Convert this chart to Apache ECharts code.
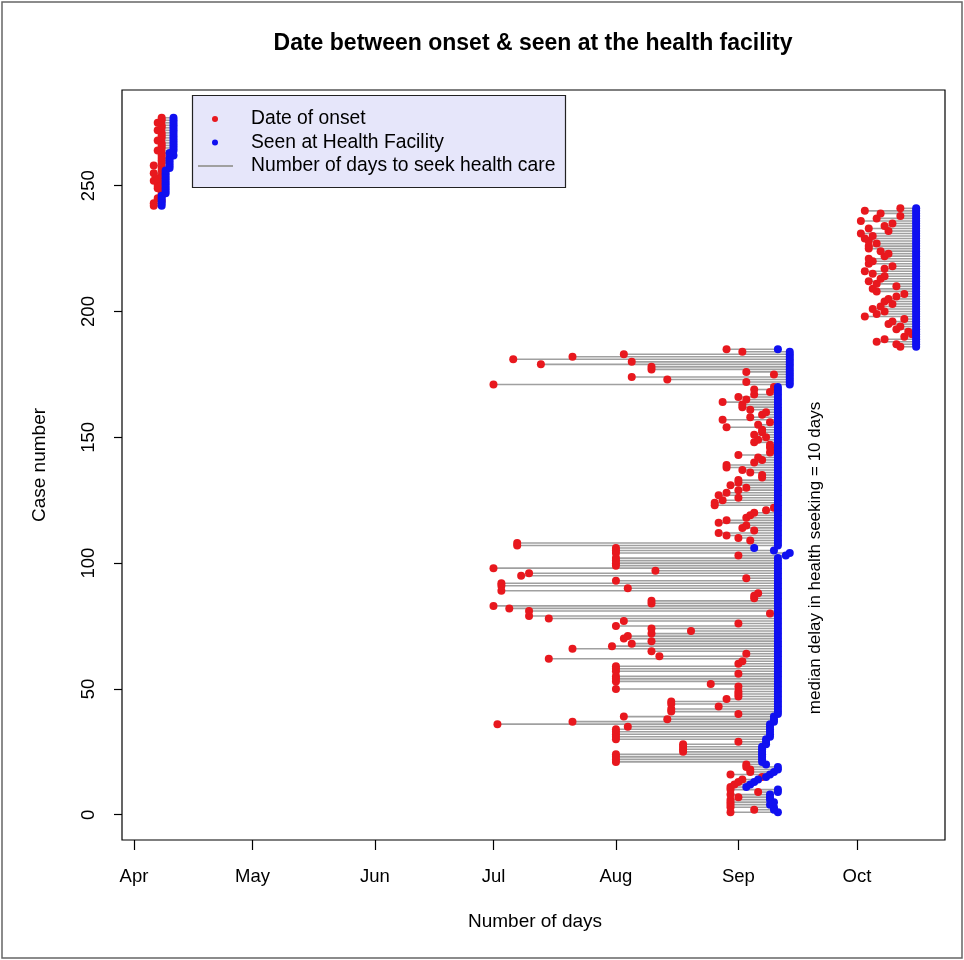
<!DOCTYPE html>
<html><head><meta charset="utf-8">
<script src="https://cdn.jsdelivr.net/npm/echarts@6/dist/echarts.min.js"></script>
<style>html,body{margin:0;padding:0;background:#fff}#c{width:964px;height:960px}</style>
</head><body><div id="c"></div>
<script>
// ---- axis data ----
const monthNames = ['Apr','May','Jun','Jul','Aug','Sep','Oct'];
const monthTickDays = [0,30,61,91,122,153,183]; // days after 1 April
const yTicks = [0,50,100,150,200,250];

// ---- case data: day offsets from 1 April ----
// Group A: cases 1..185 (onset Jul–Sep)
const groupAFirstCase = 1;
const groupAOnset = [
151,157,151,151,151,151,153,151,158,151,
151,152,153,154,159,151,156,156,155,155,
122,122,122,122,139,139,139,139,153,122,
122,122,122,122,125,92,111,135,124,153,
136,136,148,136,136,150,153,153,153,122,
153,146,122,122,122,153,122,122,122,153,
154,105,133,155,131,111,121,126,131,124,
125,131,141,131,122,153,124,105,100,161,
100,95,91,131,131,157,157,158,93,125,
93,93,122,155,98,100,132,91,122,122,
122,122,153,122,122,122,97,97,156,153,
150,148,157,154,155,148,150,155,156,157,
160,162,147,147,149,153,148,150,153,155,
151,153,153,159,159,156,154,150,150,157,
159,158,153,161,162,161,161,157,158,160,
157,159,159,150,158,161,149,156,159,160,
156,154,154,149,155,153,157,161,157,162,
91,155,135,126,162,155,131,131,103,126,
96,111,124,154,150];
const groupASeen = [
163,162,162,161,162,161,161,161,163,163,
155,156,157,158,160,161,162,163,163,160,
159,159,159,159,159,159,159,160,160,160,
161,161,161,161,161,161,162,162,162,163,
163,163,163,163,163,163,163,163,163,163,
163,163,163,163,163,163,163,163,163,163,
163,163,163,163,163,163,163,163,163,163,
163,163,163,163,163,163,163,163,163,163,
163,163,163,163,163,163,163,163,163,163,
163,163,163,163,163,163,163,163,163,163,
163,163,165,166,162,157,163,163,163,163,
163,163,163,163,163,163,163,163,163,163,
163,163,163,163,163,163,163,163,163,163,
163,163,163,163,163,163,163,163,163,163,
163,163,163,163,163,163,163,163,163,163,
163,163,163,163,163,163,163,163,163,163,
163,163,163,163,163,163,163,163,163,163,
166,166,166,166,166,166,166,166,166,166,
166,166,166,166,163];

// Group B: cases 186..241 (October)
const groupBFirstCase = 186;
const groupBOnset = [
194,193,188,190,195,197,196,193,194,191,
192,195,185,188,190,187,189,192,190,191,
193,195,188,187,193,188,186,189,190,187,
185,190,192,186,187,186,190,191,189,186,
186,188,186,185,187,184,191,186,190,192,
184,188,194,189,185,194];
const groupBSeen = [
198,198,198,198,198,198,198,198,198,198,
198,198,198,198,198,198,198,198,198,198,
198,198,198,198,198,198,198,198,198,198,
198,198,198,198,198,198,198,198,198,198,
198,198,198,198,198,198,198,198,198,198,
198,198,198,198,198,198];

// Group C: cases 242..277 (April)
const groupCFirstCase = 242;
const groupCOnset = [
5,5,7,6,7,7,7,6,6,7,
5,6,7,5,7,7,5,7,7,7,
7,7,6,7,7,7,6,7,7,7,
6,7,7,6,7,7];
const groupCSeen = [
7,7,7,7,7,8,8,8,8,8,
8,8,8,8,8,9,9,9,9,9,
10,9,10,10,10,10,10,10,10,10,
10,10,10,10,10,10];

// ---- build ----
const groups = [
  [groupAFirstCase, groupAOnset, groupASeen],
  [groupBFirstCase, groupBOnset, groupBSeen],
  [groupCFirstCase, groupCOnset, groupCSeen]
];
const segData = [], onsetPts = [], seenPts = [];
groups.forEach(([first, on, seen]) => {
  on.forEach((d, i) => {
    const c = first + i;
    segData.push([d, seen[i], c]);
    onsetPts.push([d, c]);
    seenPts.push([seen[i], c]);
  });
});

const FONT = 'Liberation Sans, Arial, sans-serif';
const chart = echarts.init(document.getElementById('c'), null, {renderer: 'canvas'});
chart.setOption({
  animation: false,
  backgroundColor: '#fff',
  grid: {left: 122, right: 19, top: 90, bottom: 120, show: true, borderColor: '#000', borderWidth: 1.2, containLabel: false},
  xAxis: {
    type: 'value',
    min: -3.04, max: 205.3,
    axisLine: {show: false, onZero: false},
    splitLine: {show: false},
    axisTick: {show: true, length: 10, customValues: monthTickDays, lineStyle: {color: '#000', width: 1.2}},
    axisLabel: {
      customValues: monthTickDays, color: '#000', fontSize: 18.5, fontFamily: FONT, margin: 27,
      formatter: v => { const i = monthTickDays.indexOf(Math.round(v)); return i >= 0 ? monthNames[i] : ''; }
    }
  },
  yAxis: {
    type: 'value',
    min: -10.04, max: 288.04,
    axisLine: {show: false, onZero: false},
    splitLine: {show: false},
    axisTick: {show: true, length: 8, customValues: yTicks, lineStyle: {color: '#000', width: 1.2}},
    axisLabel: {customValues: yTicks, rotate: 90, color: '#000', fontSize: 18.5, fontFamily: FONT, margin: 24}
  },
  series: [
    {
      type: 'custom',
      data: segData,
      encode: {x: [0, 1], y: 2},
      renderItem: (params, api) => {
        const p1 = api.coord([api.value(0), api.value(2)]);
        const p2 = api.coord([api.value(1), api.value(2)]);
        return {type: 'line', shape: {x1: p1[0], y1: p1[1], x2: p2[0], y2: p2[1]}, style: {stroke: '#a0a0a0', lineWidth: 1.6}};
      },
      silent: true, z: 1
    },
    {type: 'scatter', data: onsetPts, symbol: 'circle', symbolSize: 8, itemStyle: {color: '#e8181e', opacity: 1}, silent: true, z: 2},
    {type: 'scatter', data: seenPts, symbol: 'circle', symbolSize: 8, itemStyle: {color: '#1010f0', opacity: 1}, silent: true, z: 3}
  ],
  graphic: [
    {type: 'rect', shape: {x: 2, y: 2, width: 960, height: 956}, style: {fill: 'none', stroke: '#666', lineWidth: 1.5}, silent: true, z: 0},
    {type: 'text', x: 533, y: 44, style: {text: 'Date between onset & seen at the health facility', font: 'bold 23px ' + FONT, fill: '#000', align: 'center', verticalAlign: 'middle'}},
    {type: 'text', x: 535, y: 922, style: {text: 'Number of days', font: '19px ' + FONT, fill: '#000', align: 'center', verticalAlign: 'middle'}},
    {type: 'text', x: 40, y: 465, rotation: Math.PI / 2, style: {text: 'Case number', font: '19px ' + FONT, fill: '#000', align: 'center', verticalAlign: 'middle'}},
    {type: 'text', x: 815, y: 558, rotation: Math.PI / 2, z: 10, style: {text: 'median delay in health seeking = 10 days', font: '17px ' + FONT, fill: '#000', align: 'center', verticalAlign: 'middle'}},
    {type: 'group', z: 20, children: [
      {type: 'rect', shape: {x: 192.5, y: 95.5, width: 373, height: 92}, style: {fill: '#e6e6fa', stroke: '#222', lineWidth: 1.2}},
      {type: 'circle', shape: {cx: 215, cy: 119, r: 3}, style: {fill: '#e8181e'}},
      {type: 'circle', shape: {cx: 215, cy: 142.5, r: 3}, style: {fill: '#1010f0'}},
      {type: 'line', shape: {x1: 198, y1: 166, x2: 233, y2: 166}, style: {stroke: '#a0a0a0', lineWidth: 2}},
      {type: 'text', x: 251, y: 119, style: {text: 'Date of onset', font: '19.3px ' + FONT, fill: '#000', verticalAlign: 'middle'}},
      {type: 'text', x: 251, y: 142.5, style: {text: 'Seen at Health Facility', font: '19.3px ' + FONT, fill: '#000', verticalAlign: 'middle'}},
      {type: 'text', x: 251, y: 166, style: {text: 'Number of days to seek health care', font: '19.3px ' + FONT, fill: '#000', verticalAlign: 'middle'}}
    ]}
  ]
});
</script></body></html>
